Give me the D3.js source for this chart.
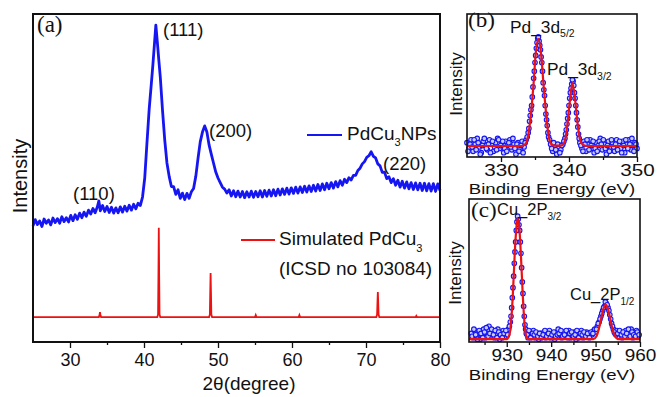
<html>
<head>
<script src="https://d3js.org/d3.v7.min.js"></script>
<style>
  body { margin: 0; background: #fff; }
</style>
</head>
<body>
<div id="cont"></div>
<script>
// ---- (a) XRD ----
var xrdTicks = [30, 40, 50, 60, 70, 80];
var xrdMinor = [35, 45, 55, 65, 75];
// measured PdCu3 NPs pattern [2theta, counts]
var pdcu3NPs = [
  [25.0,354],[25.3,373],[25.6,358],[25.9,369],[26.2,352],[26.5,375],[26.8,362],[27.1,372],[27.4,357],[27.7,378],
  [28.0,364],[28.3,376],[28.6,362],[28.9,382],[29.2,367],[29.5,379],[29.8,366],[30.1,386],[30.4,370],[30.7,388],
  [31.0,374],[31.3,393],[31.6,379],[31.9,396],[32.2,383],[32.5,402],[32.8,390],[33.1,407],[33.4,394],[33.7,412],
  [33.9,430],[34.1,400],[34.4,416],[34.7,398],[35.0,413],[35.3,395],[35.6,411],[35.9,393],[36.2,409],[36.5,394],
  [36.8,412],[37.1,396],[37.4,414],[37.7,399],[38.0,417],[38.3,402],[38.6,420],[38.9,406],[39.2,423],[39.5,416],
  [39.8,442],[40.1,500],[40.4,607],[40.7,710],[41.0,790],[41.2,845],[41.4,905],[41.6,966],[41.8,915],[42.0,860],
  [42.2,808],[42.5,707],[42.8,616],[43.1,546],[43.4,505],[43.7,474],[44.0,474],[44.3,450],[44.6,464],[44.9,438],
  [45.2,454],[45.5,434],[45.8,453],[46.1,438],[46.4,458],[46.7,468],[47.0,505],[47.3,560],[47.6,610],[47.9,640],
  [48.2,659],[48.5,640],[48.8,600],[49.1,572],[49.4,545],[49.7,518],[50.0,500],[50.3,486],[50.6,472],[50.9,466],
  [51.2,454],[51.5,464],[51.8,445],[52.1,461],[52.4,443],[52.7,460],[53.0,442],[53.3,459],[53.6,440],[53.9,458],
  [54.2,442],[54.5,460],[54.8,441],[55.1,459],[55.4,443],[55.7,461],[56.0,442],[56.3,462],[56.6,444],[56.9,463],
  [57.2,445],[57.5,464],[57.8,446],[58.1,466],[58.4,448],[58.7,467],[59.0,450],[59.3,469],[59.6,451],[59.9,470],
  [60.2,453],[60.5,472],[60.8,454],[61.1,473],[61.4,456],[61.7,475],[62.0,457],[62.3,476],[62.6,459],[62.9,478],
  [63.2,460],[63.5,480],[63.8,462],[64.1,482],[64.4,464],[64.7,484],[65.0,467],[65.3,486],[65.6,469],[65.9,489],
  [66.2,473],[66.5,492],[66.8,478],[67.1,496],[67.4,486],[67.7,501],[68.0,494],[68.3,508],[68.6,508],[68.9,523],
  [69.2,530],[69.5,543],[69.8,550],[70.1,563],[70.4,568],[70.7,580],[71.0,566],[71.3,561],[71.6,543],[71.9,537],
  [72.2,517],[72.5,518],[72.8,498],[73.1,504],[73.4,486],[73.7,498],[74.0,478],[74.3,493],[74.6,472],[74.9,490],
  [75.2,469],[75.5,488],[75.8,467],[76.1,486],[76.4,465],[76.7,485],[77.0,464],[77.3,484],[77.6,462],[77.9,484],
  [78.2,461],[78.5,483],[78.8,460],[79.1,483],[79.4,459],[79.7,482],[80.0,462]
];
// simulated PdCu3 (ICSD 103084)
var simulated = [
  [25,76],[33.9,76],[34.0,84],[34.05,91],[34.1,84],[34.2,76],
  [41.8,76],[41.9,84],[41.95,200],[42.0,348],[42.05,200],[42.1,84],[42.2,76],
  [48.8,76],[48.9,84],[48.95,150],[49.0,210],[49.05,150],[49.1,84],[49.2,76],
  [55.0,76],[55.1,82],[55.2,76],[60.9,76],[61.0,82],[61.1,76],
  [71.4,76],[71.5,84],[71.55,120],[71.6,152],[71.65,120],[71.7,84],[71.8,76],
  [76.7,76],[76.8,80],[76.9,76],[80,76]
];
var hkl = [
  {label: "(110)", x: 73, y: 200},
  {label: "(111)", x: 163, y: 36},
  {label: "(200)", x: 209, y: 137},
  {label: "(220)", x: 383, y: 170}
];

// ---- (b) Pd 3d ----
var bTicks = [330, 340, 350];
var bMinor = [335, 345];
var pdPoints = [
  [325.0,10],[325.3,6],[325.6,12],[325.9,4],[326.2,9],[326.5,13],[326.8,7],[327.1,3],[327.4,11],[327.7,8],
  [328.0,5],[328.3,12],[328.6,9],[328.9,4],[329.2,10],[329.5,13],[329.8,6],[330.1,9],[330.4,3],[330.7,11],
  [331.0,8],[331.3,12],[331.6,5],[331.9,9],[332.2,2],[332.5,10],[332.8,6],[333.1,11],[333.4,7],[333.7,12],
  [334.0,17],[334.2,25],[334.4,33],[334.6,42],[334.8,55],[335.0,66],[335.2,76],[335.4,83],[335.6,81],[335.8,75],
  [336.0,66],[336.2,52],[336.4,43],[336.6,30],[336.8,22],[337.0,14],[337.3,9],[337.6,4],[337.9,8],[338.2,2],
  [338.5,7],[338.8,5],[339.1,9],[339.4,13],[339.6,19],[339.8,27],[340.0,36],[340.2,45],[340.4,51],[340.6,53],
  [340.8,45],[341.0,36],[341.2,26],[341.4,16],[341.6,10],[341.9,6],[342.2,11],[342.5,4],[342.8,9],[343.1,12],
  [343.4,6],[343.7,3],[344.0,10],[344.3,8],[344.6,13],[344.9,5],[345.2,9],[345.5,2],[345.8,11],[346.1,7],
  [346.4,10],[346.7,4],[347.0,12],[347.3,8],[347.6,6],[347.9,11],[348.2,3],[348.5,9],[348.8,12],[349.1,5],
  [349.4,8],[349.7,10],[350.0,6],
  [325.15,4],[325.45,9],[325.75,7],[326.05,12],[326.35,5],[326.65,10],[326.95,2],[327.25,8],[327.55,13],[327.85,6],
  [328.15,9],[328.45,3],[328.75,11],[329.05,7],[329.35,5],[329.65,12],[329.95,8],[330.25,11],[330.55,6],[330.85,4],
  [331.15,10],[331.45,7],[331.75,13],[332.05,6],[332.35,9],[332.65,4],[332.95,8],[333.25,3],[333.55,10],[333.85,14],
  [334.1,20],[334.3,29],[334.5,36],[334.7,49],[334.9,60],[335.1,71],[335.3,80],[335.5,84],[335.7,78],[335.9,70],
  [336.1,60],[336.3,47],[336.5,36],[336.7,26],[336.9,17],[337.15,12],[337.45,6],[337.75,10],[338.05,5],[338.35,9],
  [338.65,3],[338.95,8],[339.25,11],[339.5,16],[339.7,23],[339.9,31],[340.1,41],[340.3,48],[340.5,54],[340.7,50],
  [340.9,41],[341.1,31],[341.3,21],[341.5,13],[341.75,8],[342.05,4],[342.35,9],[342.65,12],[342.95,5],[343.25,8],
  [343.55,11],[343.85,6],[344.15,4],[344.45,11],[344.75,9],[345.05,12],[345.35,6],[345.65,8],[345.95,4],[346.25,12],
  [346.55,7],[346.85,9],[347.15,5],[347.45,11],[347.75,3],[348.05,8],[348.35,12],[348.65,6],[348.95,9],[349.25,13],
  [349.55,4],[349.85,9]
];
var pdFit = [
  [325,7.7],[333,7.7],[333.6,9],[334.0,15],[334.4,30],[334.8,52],[335.1,72],[335.5,82.5],[335.9,72],[336.2,54],
  [336.6,32],[337.0,15],[337.4,9],[337.8,8],[338.8,8],[339.3,10],[339.7,20],[340.1,38],[340.5,51.7],[340.9,40],
  [341.3,22],[341.7,11],[342.1,8.5],[342.6,7.7],[350,7.7]
];

// ---- (c) Cu 2p ----
var cTicks = [930, 940, 950, 960];
var cMinor = [925, 935, 945, 955];
var cuPoints = [
  [922.0,6],[922.4,3],[922.8,8],[923.2,4],[923.6,7],[924.0,2],[924.4,5],[924.8,9],[925.2,3],[925.6,6],
  [926.0,11],[926.4,4],[926.8,7],[927.2,3],[927.6,6],[928.0,9],[928.4,2],[928.8,5],[929.2,8],[929.6,4],
  [930.0,6],[930.4,9],[930.8,14],[931.1,24],[931.4,38],[931.7,55],[932.0,70],[932.3,84],[932.6,86],[932.9,78],
  [933.2,62],[933.5,42],[933.8,25],[934.1,12],[934.4,6],[934.8,3],[935.2,7],[935.6,4],[936.0,8],[936.4,3],
  [936.8,5],[937.2,2],[937.6,6],[938.0,4],[938.4,7],[938.8,3],[939.2,5],[939.6,8],[940.0,4],[940.4,6],
  [940.8,2],[941.2,7],[941.6,9],[942.0,5],[942.4,3],[942.8,7],[943.2,4],[943.6,6],[944.0,8],[944.4,3],
  [944.8,5],[945.2,7],[945.6,2],[946.0,6],[946.4,4],[946.8,8],[947.2,3],[947.6,5],[948.0,7],[948.4,4],
  [948.8,6],[949.2,5],[949.6,8],[950.0,7],[950.4,11],[950.8,14],[951.2,18],[951.6,22],[952.0,25],[952.4,27],
  [952.8,24],[953.2,19],[953.6,13],[954.0,9],[954.4,6],[954.8,8],[955.2,4],[955.6,7],[956.0,3],[956.4,6],
  [956.8,8],[957.2,4],[957.6,5],[958.0,9],[958.4,3],[958.8,6],[959.2,8],[959.6,4],
  [922.2,4],[922.6,9],[923.0,5],[923.4,2],[923.8,8],[924.2,6],[924.6,3],[925.0,7],[925.4,10],[925.8,4],
  [926.2,6],[926.6,9],[927.0,5],[927.4,8],[927.8,3],[928.2,7],[928.6,5],[929.0,3],[929.4,6],[929.8,8],
  [930.2,5],[930.6,11],[930.95,18],[931.25,31],[931.55,46],[931.85,63],[932.15,78],[932.45,88],[932.75,82],[933.05,70],
  [933.35,52],[933.65,34],[933.95,18],[934.25,9],[934.6,5],[935.0,8],[935.4,3],[935.8,6],[936.2,5],[936.6,7],
  [937.0,4],[937.4,6],[937.8,3],[938.2,5],[938.6,8],[939.0,4],[939.4,6],[939.8,3],[940.2,5],[940.6,7],
  [941.0,4],[941.4,5],[941.8,6],[942.2,8],[942.6,4],[943.0,5],[943.4,8],[943.8,3],[944.2,6],[944.6,7],
  [945.0,4],[945.4,5],[945.8,8],[946.2,3],[946.6,6],[947.0,5],[947.4,7],[947.8,4],[948.2,6],[948.6,3],
  [949.0,7],[949.4,6],[949.8,9],[950.2,9],[950.6,13],[951.0,16],[951.4,20],[951.8,24],[952.2,28],[952.6,26],
  [953.0,22],[953.4,16],[953.8,11],[954.2,7],[954.6,5],[955.0,6],[955.4,8],[955.8,5],[956.2,7],[956.6,4],
  [957.0,6],[957.4,9],[957.8,4],[958.2,7],[958.6,5],[959.0,4],[959.4,7],[959.8,5]
];
var cuFit = [
  [921.5,2],[930.0,2],[930.6,5],[931.0,15],[931.4,35],[931.8,62],[932.2,81],[932.5,86.7],[932.8,81],[933.2,60],
  [933.6,33],[934.0,13],[934.4,4],[934.9,2],[949.5,2],[950.2,4],[950.8,10],[951.3,17],[951.8,23.5],[952.3,25.9],
  [952.8,23],[953.3,16],[953.8,9],[954.4,4],[955.0,2],[960,2]
];

var blue = "#1616f2", red = "#ee1111";
var sans = "Arial, 'Liberation Sans', sans-serif";
var serif = "'Liberation Serif', 'Times New Roman', serif";

var svg = d3.select("#cont").append("svg")
    .attr("width", 657)
    .attr("height", 397)
    .attr("font-family", sans)
    .attr("fill", "#111");
svg.append("rect").attr("width", 657).attr("height", 397).attr("fill", "#fff");

function axisFont(g, size, sx) {
    g.select(".domain").remove();
    g.selectAll("line").attr("stroke", "#111").attr("stroke-width", 1.3);
    g.selectAll("text").attr("font-size", size).attr("fill", "#111").attr("font-family", sans);
    if (sx) g.selectAll("text").attr("transform", "scale(" + sx + ",1)");
}
function minorAxis(g) {
    g.select(".domain").remove();
    g.selectAll("text").remove();
    g.selectAll("line").attr("stroke", "#111").attr("stroke-width", 1.3);
}

function stext(x, y, sx, size, str, fam) {
    var t = svg.append("text")
        .attr("transform", "translate(" + x + "," + y + ") scale(" + sx + ",1)")
        .attr("font-size", size)
        .text(str);
    if (fam) t.attr("font-family", fam);
    return t;
}

// ================= panel (a) =================
var xa = d3.scaleLinear().domain([25, 80]).range([33, 440]);
var ya = d3.scaleLinear().domain([0, 1000]).range([342, 14]);

var lineA = d3.line().x(function (d) { return xa(d[0]); }).y(function (d) { return ya(d[1]); });

svg.append("path").datum(simulated)
    .attr("d", lineA).attr("fill", "none").attr("stroke", red).attr("stroke-width", 1.8);
svg.append("path").datum(pdcu3NPs)
    .attr("d", lineA).attr("fill", "none").attr("stroke", blue).attr("stroke-width", 2.8)
    .attr("stroke-linejoin", "round");

svg.append("g").attr("transform", "translate(0,342)")
    .call(d3.axisBottom(xa).tickValues(xrdTicks).tickSize(6).tickPadding(5).tickFormat(d3.format("d")))
    .call(function (g) { axisFont(g, 18); });
svg.append("g").attr("transform", "translate(0,342)")
    .call(d3.axisBottom(xa).tickValues(xrdMinor).tickSize(3))
    .call(minorAxis);

svg.append("rect").attr("x", 33).attr("y", 14).attr("width", 407).attr("height", 328)
    .attr("fill", "none").attr("stroke", "#111").attr("stroke-width", 2);

svg.selectAll(".hkl").data(hkl).enter().append("text")
    .attr("class", "hkl")
    .attr("x", function (d) { return d.x; })
    .attr("y", function (d) { return d.y; })
    .attr("font-size", 18.5)
    .text(function (d) { return d.label; });

svg.append("text").attr("x", 37).attr("y", 32)
    .attr("font-family", serif)
    .attr("font-size", 23).text("(a)");

svg.append("text").attr("transform", "translate(27,176) rotate(-90)")
    .attr("text-anchor", "middle").attr("font-size", 20).text("Intensity");

svg.append("text").attr("x", 249).attr("y", 390)
    .attr("text-anchor", "middle").attr("font-size", 19).text("2\u03b8(degree)");

// legend
svg.append("line").attr("x1", 307).attr("x2", 342).attr("y1", 135).attr("y2", 135)
    .attr("stroke", blue).attr("stroke-width", 2.2);
var lg1 = svg.append("text").attr("x", 347).attr("y", 140).attr("font-size", 19);
lg1.append("tspan").text("PdCu");
lg1.append("tspan").attr("dy", 6).attr("font-size", 11).text("3");
lg1.append("tspan").attr("dy", -6).text("NPs");

svg.append("line").attr("x1", 241).attr("x2", 275).attr("y1", 240).attr("y2", 240)
    .attr("stroke", red).attr("stroke-width", 2);
var lg2 = svg.append("text").attr("x", 279).attr("y", 245).attr("font-size", 19);
lg2.append("tspan").text("Simulated PdCu");
lg2.append("tspan").attr("dy", 7).attr("font-size", 11).text("3");
svg.append("text").attr("x", 279).attr("y", 275).attr("font-size", 19).text("(ICSD no 103084)");

// ================= panel (b) =================
var xb = d3.scaleLinear().domain([325, 350]).range([467, 637]);
var yb = d3.scaleLinear().domain([0, 100]).range([157, 14]);

var gb = svg.append("g");
gb.selectAll("circle").data(pdPoints).enter().append("circle")
    .attr("cx", function (d) { return xb(d[0]); })
    .attr("cy", function (d) { return yb(d[1]); })
    .attr("r", 2.3)
    .attr("fill", "#c9ccf7").attr("stroke", blue).attr("stroke-width", 1.1);
gb.append("path").datum(pdFit)
    .attr("d", d3.line().curve(d3.curveMonotoneX)
        .x(function (d) { return xb(d[0]); }).y(function (d) { return yb(d[1]); }))
    .attr("fill", "none").attr("stroke", red).attr("stroke-width", 2.2);

svg.append("g").attr("transform", "translate(0,157)")
    .call(d3.axisBottom(xb).tickValues(bTicks).tickSize(5).tickPadding(2).tickFormat(d3.format("d")))
    .call(function (g) { axisFont(g, 16.5, 1.25); });
svg.append("g").attr("transform", "translate(0,157)")
    .call(d3.axisBottom(xb).tickValues(bMinor).tickSize(3))
    .call(minorAxis);
svg.append("rect").attr("x", 467).attr("y", 14).attr("width", 170).attr("height", 143)
    .attr("fill", "none").attr("stroke", "#111").attr("stroke-width", 1.6);

stext(468, 27, 1.1, 21, "(b)", serif);
var pb1 = stext(510, 33, 1.05, 16.5, "");
pb1.append("tspan").text("Pd_3d");
pb1.append("tspan").attr("dy", 4).attr("font-size", 10).text("5/2");
var pb2 = stext(547, 75, 1.05, 16.5, "");
pb2.append("tspan").text("Pd_3d");
pb2.append("tspan").attr("dy", 5).attr("font-size", 10).text("3/2");
svg.append("text").attr("transform", "translate(462,84) rotate(-90)")
    .attr("text-anchor", "middle").attr("font-size", 17).text("Intensity");
svg.append("text").attr("transform", "translate(552,194) scale(1.2,1)")
    .attr("text-anchor", "middle").attr("font-size", 15.5).text("Binding Energy (eV)");

// ================= panel (c) =================
var xc = d3.scaleLinear().domain([921.5, 960]).range([469, 640]);
var yc = d3.scaleLinear().domain([0, 100]).range([342, 199]);

var gc = svg.append("g");
gc.selectAll("circle").data(cuPoints).enter().append("circle")
    .attr("cx", function (d) { return xc(d[0]); })
    .attr("cy", function (d) { return yc(d[1]); })
    .attr("r", 2.3)
    .attr("fill", "#c9ccf7").attr("stroke", blue).attr("stroke-width", 1.1);
gc.append("path").datum(cuFit)
    .attr("d", d3.line().curve(d3.curveMonotoneX)
        .x(function (d) { return xc(d[0]); }).y(function (d) { return yc(d[1]); }))
    .attr("fill", "none").attr("stroke", red).attr("stroke-width", 2.2);

svg.append("g").attr("transform", "translate(0,342)")
    .call(d3.axisBottom(xc).tickValues(cTicks).tickSize(5).tickPadding(2).tickFormat(d3.format("d")))
    .call(function (g) { axisFont(g, 16.5, 1.15); });
svg.append("g").attr("transform", "translate(0,342)")
    .call(d3.axisBottom(xc).tickValues(cMinor).tickSize(3))
    .call(minorAxis);
svg.append("rect").attr("x", 469).attr("y", 199).attr("width", 171).attr("height", 143)
    .attr("fill", "none").attr("stroke", "#111").attr("stroke-width", 1.6);

stext(471, 217, 1.1, 21, "(c)", serif);
var pc1 = stext(497, 215, 1.0, 16.5, "");
pc1.append("tspan").text("Cu_2P");
pc1.append("tspan").attr("dy", 5).attr("font-size", 10).text("3/2");
var pc2 = stext(570, 300, 1.0, 16.5, "");
pc2.append("tspan").text("Cu_2P");
pc2.append("tspan").attr("dy", 5).attr("font-size", 10).text("1/2");
svg.append("text").attr("transform", "translate(461,273) rotate(-90)")
    .attr("text-anchor", "middle").attr("font-size", 17).text("Intensity");
svg.append("text").attr("transform", "translate(552,380) scale(1.2,1)")
    .attr("text-anchor", "middle").attr("font-size", 15.5).text("Binding Energy (eV)");
</script>
</body>
</html>
